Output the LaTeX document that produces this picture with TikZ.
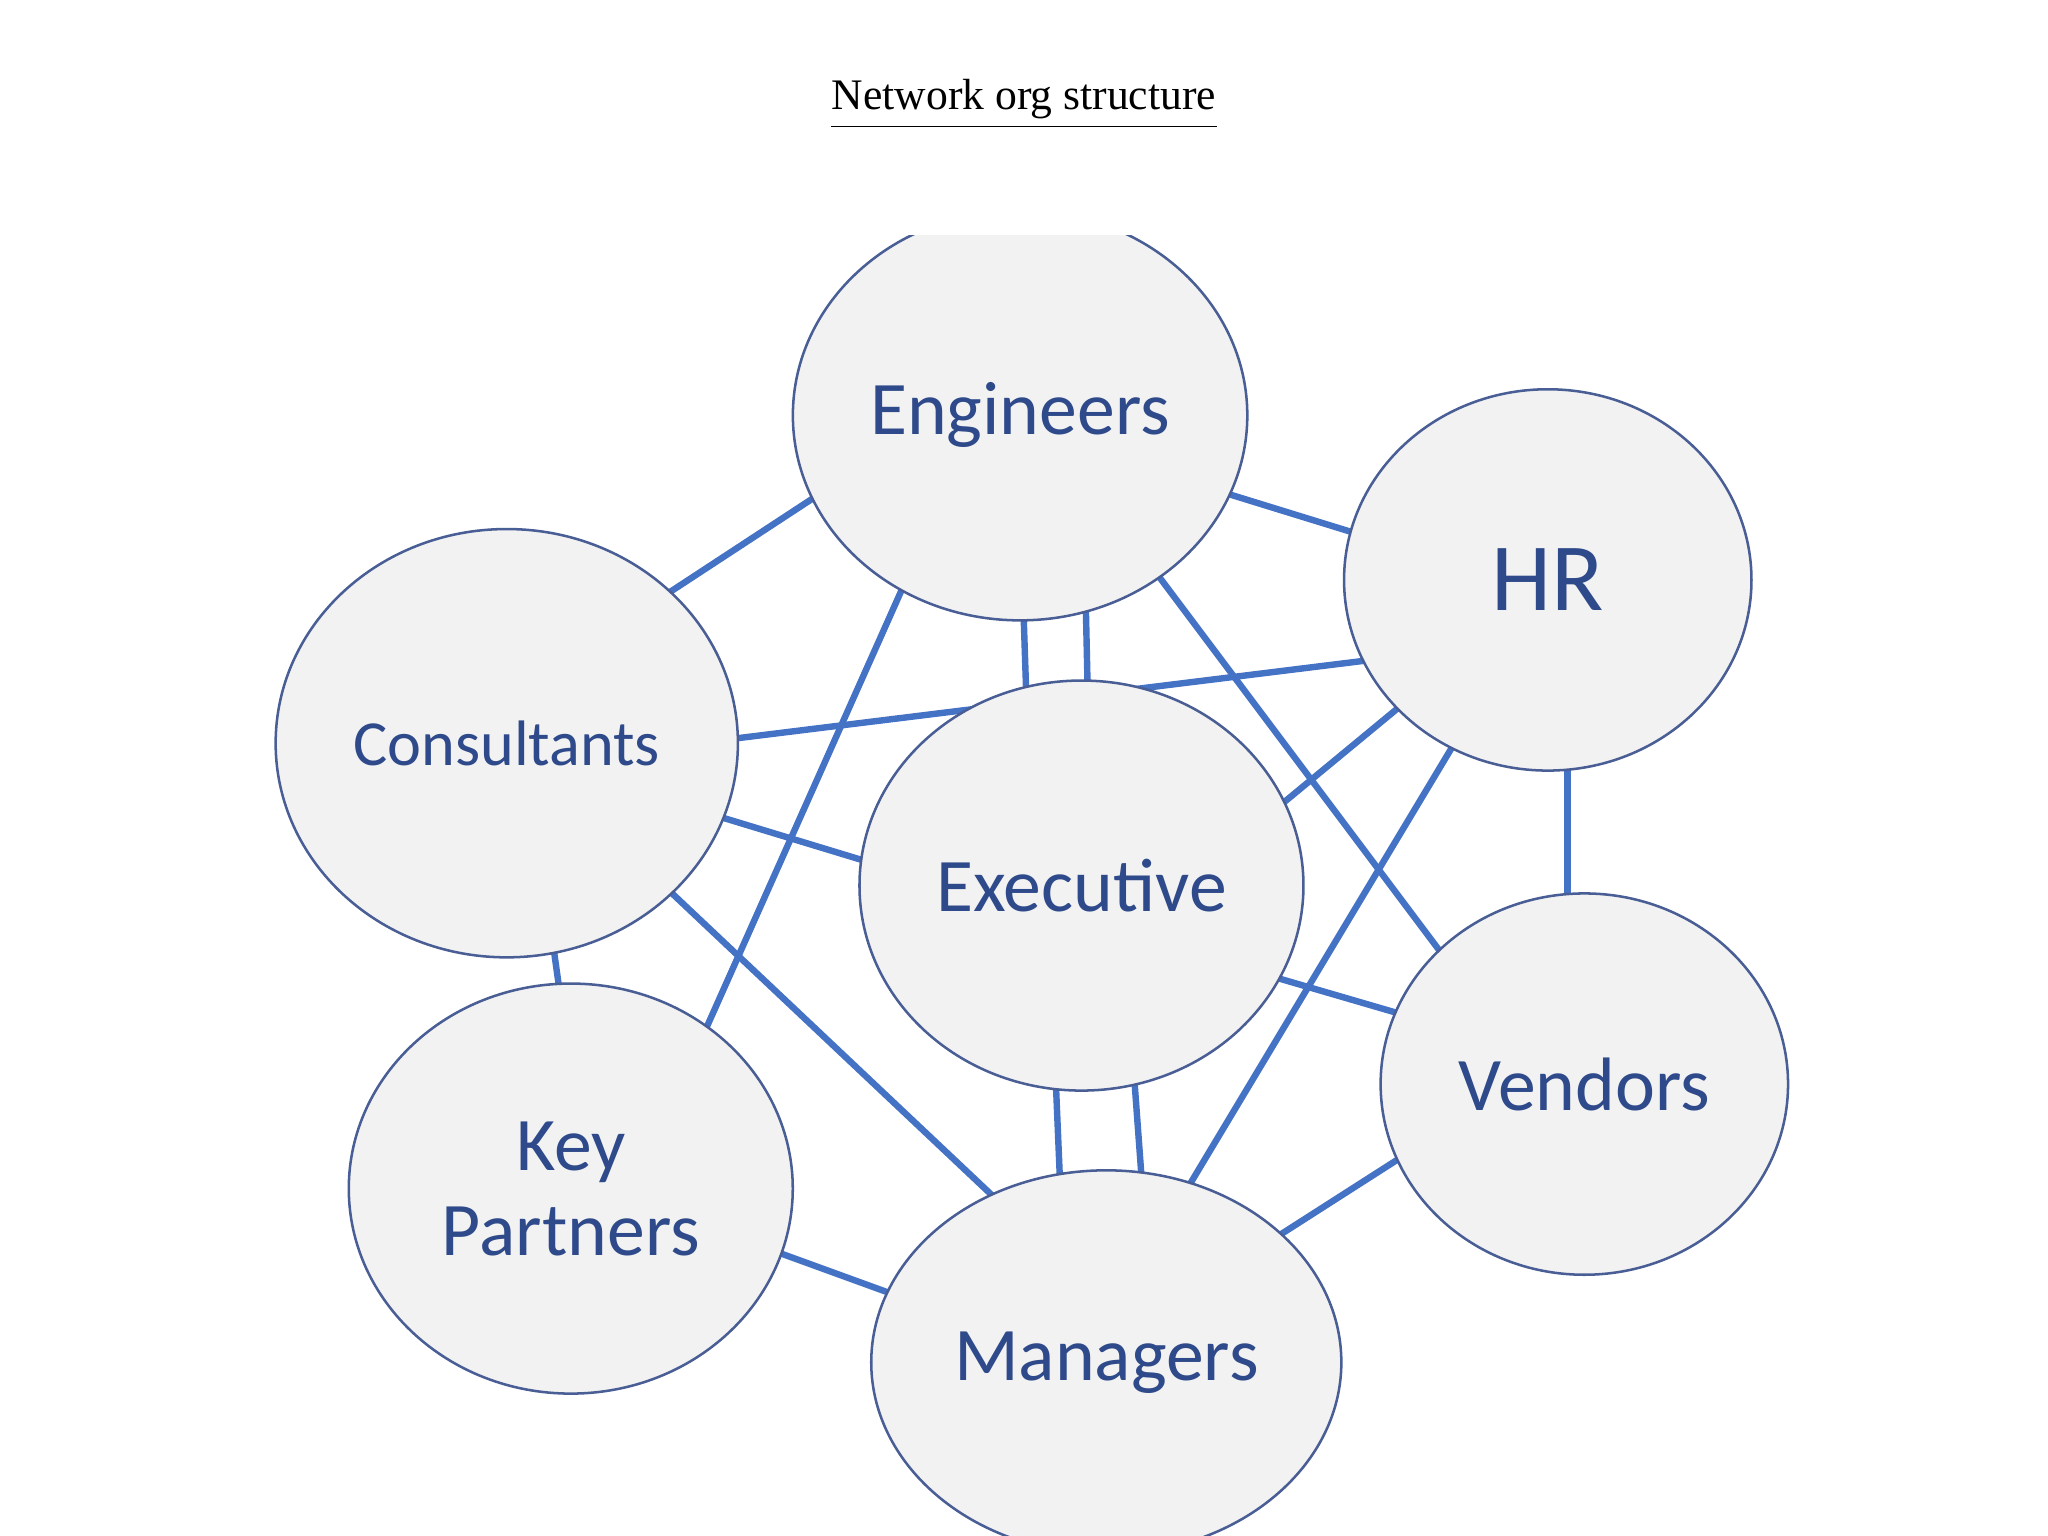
\documentclass[tikz,border=0pt]{standalone}
\usepackage{fontspec}
\setmainfont{Liberation Serif}
\newfontfamily\carl{Carlito}
\definecolor{edgeblue}{HTML}{4472C4}
\definecolor{rimblue}{HTML}{4A5E96}
\definecolor{txtblue}{HTML}{2F4A8A}
\definecolor{bubble}{HTML}{F2F2F2}
\usetikzlibrary{shapes.geometric}
\tikzset{
  P/.style={x=0.02cm,y=-0.02cm},
  link/.style={draw=edgeblue,line width=2.8pt},
  bub/.style={ellipse,draw=rimblue,line width=1.1pt,fill=bubble,inner sep=0pt},
  lab/.style={text=txtblue,align=center}
}
\begin{document}
\begin{tikzpicture}[P]
\useasboundingbox (0,0) rectangle (1568,1176);
\clip (0,0) rectangle (1568,1176);
\coordinate (cE) at (781,318);
\coordinate (cH) at (1185,444);
\coordinate (cC) at (388,569);
\coordinate (cX) at (828,678);
\coordinate (cV) at (1213,830);
\coordinate (cK) at (437,910);
\coordinate (cM) at (847,1043);
\draw[link] (640,370) -- (495,465);
\draw[link] (930,375) -- (1050,412);
\draw[link] (783,450) -- (786,540);
\draw[link] (831,450) -- (833,540);
\draw[link] (700,430) -- (535,800);
\draw[link] (875,425) -- (1115,745);
\draw[link] (550,567) -- (1060,504);
\draw[link] (540,622) -- (675,663);
\draw[link] (423,720) -- (430,770);
\draw[link] (505,675) -- (770,925);
\draw[link] (970,625) -- (1085,530);
\draw[link] (1200,580) -- (1200,700);
\draw[link] (1125,550) -- (900,925);
\draw[link] (965,745) -- (1085,780);
\draw[link] (808,820) -- (812,915);
\draw[link] (868,820) -- (875,915);
\draw[link] (585,955) -- (695,995);
\draw[link] (1090,875) -- (965,955);
\node[bub,minimum width=6.96cm,minimum height=6.28cm] (E) at (cE) {};
\node[bub,minimum width=6.24cm,minimum height=5.84cm] (H) at (cH) {};
\node[bub,minimum width=7.08cm,minimum height=6.56cm] (C) at (cC) {};
\node[bub,minimum width=6.8cm,minimum height=6.28cm] (X) at (cX) {};
\node[bub,minimum width=6.24cm,minimum height=5.84cm] (V) at (cV) {};
\node[bub,minimum width=6.8cm,minimum height=6.28cm] (K) at (cK) {};
\node[bub,minimum width=7.2cm,minimum height=5.88cm] (M) at (cM) {};
\node[lab,font=\carl\fontsize{33}{40}\selectfont] at (cE) {Engineers};
\node[lab,font=\carl\fontsize{42}{50}\selectfont] at (cH) {HR};
\node[lab,font=\carl\fontsize{28}{34}\selectfont] at (cC) {Consultants};
\node[lab,font=\carl\fontsize{33}{40}\selectfont] at (cX) {Executive};
\node[lab,font=\carl\fontsize{33}{40}\selectfont] at (cV) {Vendors};
\node[lab,font=\carl\fontsize{33}{37}\selectfont] at (cK) {Key\\Partners};
\node[lab,font=\carl\fontsize{33}{40}\selectfont] at (cM) {Managers};
\fill[white] (0,0) rectangle (1568,180);
\node[font=\fontsize{19}{23}\selectfont,inner sep=0pt] (T) at (784,76) {Network org structure};
\draw[line width=0.8pt] ([yshift=-3pt]T.south west) -- ([yshift=-3pt]T.south east);
\end{tikzpicture}
\end{document}
